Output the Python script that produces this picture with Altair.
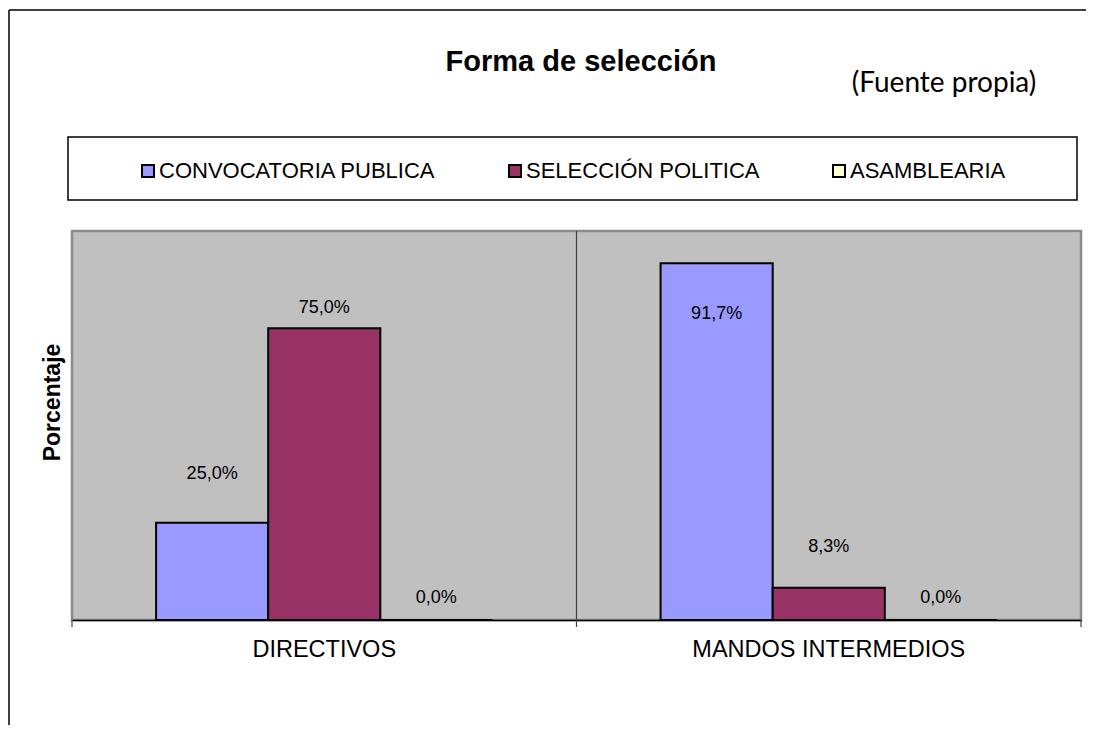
import altair as alt
import pandas as pd

# ---- data ----
categories = ["DIRECTIVOS", "MANDOS INTERMEDIOS"]
series = ["CONVOCATORIA PUBLICA", "SELECCIÓN POLITICA", "ASAMBLEARIA"]
directivos = [25.0, 75.0, 0.0]
mandos = [91.7, 8.3, 0.0]
# where each value label sits, read in the value units of the y axis
label_at_directivos = [37.6, 80.1, 5.6]
label_at_mandos = [78.6, 18.7, 5.6]
colors = ["#9999FF", "#993366", "#FFFFCC"]
title_text = "Forma de selección"
source_text = "(Fuente propia)"
y_title = "Porcentaje"

rows = []
for cat, vals, lab in [(categories[0], directivos, label_at_directivos),
                       (categories[1], mandos, label_at_mandos)]:
    for s, v, p in zip(series, vals, lab):
        rows.append({"cat": cat, "serie": s, "valor": v,
                     "etiqueta": f"{v:.1f}".replace(".", ",") + "%",
                     "pos": p})
df = pd.DataFrame(rows)

W, H = 1009, 389
FONT = "Liberation Sans"

x_scale = alt.Scale(paddingInner=0, paddingOuter=0)
off_scale = alt.Scale(paddingOuter=0.75, paddingInner=0)
y_scale = alt.Scale(domain=[0, 100], nice=False)

x_axis = alt.Axis(title=None, labelFontSize=23.5, labelFont=FONT,
                  labelColor="#000", labelAngle=0, labelPadding=17,
                  labelLimit=600,
                  ticks=False, domainColor="#000", domainWidth=1.5,
                  grid=False)
y_axis = alt.Axis(title=y_title, labels=False, ticks=False,
                  domain=False, grid=False, titleFontSize=23,
                  titleFont=FONT, titleFontWeight="bold",
                  titleColor="#000", titlePadding=8, titleY=171)


def xcat(band=0.5):
    return alt.X("cat:N", sort=categories, scale=x_scale, axis=x_axis,
                 bandPosition=band)


bars = alt.Chart(df).mark_bar(stroke="black", strokeWidth=2).encode(
    x=xcat(),
    xOffset=alt.XOffset("serie:N", sort=series, scale=off_scale),
    y=alt.Y("valor:Q", scale=y_scale, axis=y_axis),
    color=alt.Color("serie:N", sort=series,
                    scale=alt.Scale(domain=series, range=colors),
                    legend=alt.Legend(title=None, orient="none", legendX=65,
                                      legendY=-71, direction="horizontal",
                                      symbolType="square", symbolSize=144,
                                      symbolStrokeWidth=2,
                                      symbolStrokeColor="black",
                                      labelFontSize=22, labelFont=FONT,
                                      labelColor="#000", labelLimit=600,
                                      columnPadding=68,
                                      labelOffset=0, padding=0, rowPadding=0)),
)

labels = alt.Chart(df).mark_text(font=FONT, fontSize=18, color="#000",
                                 baseline="middle").encode(
    x=xcat(),
    xOffset=alt.XOffset("serie:N", sort=series, scale=off_scale),
    y=alt.Y("pos:Q", scale=y_scale, axis=y_axis),
    text="etiqueta:N",
)

one = alt.Data(values=[{"k": 1}])

divider = alt.Chart(alt.Data(values=[{"cat": categories[1]}])).mark_rule(
    color="#404040", strokeWidth=1.2).encode(
    x=xcat(0), y=alt.value(0), y2=alt.value(H + 7),
)
tick_left = alt.Chart(alt.Data(values=[{"cat": categories[0]}])).mark_rule(
    color="#404040", strokeWidth=1.2).encode(
    x=xcat(0), y=alt.value(H), y2=alt.value(H + 7),
)
tick_right = alt.Chart(alt.Data(values=[{"cat": categories[1]}])).mark_rule(
    color="#404040", strokeWidth=1.2).encode(
    x=xcat(1), y=alt.value(H), y2=alt.value(H + 7),
)

legend_box = alt.Chart(one).mark_rect(filled=False, stroke="black",
                                      strokeWidth=1.5).encode(
    x=alt.value(-4), x2=alt.value(1005), y=alt.value(-94), y2=alt.value(-31))

frame_top = alt.Chart(one).mark_rule(color="black", strokeWidth=1.5).encode(
    x=alt.value(-63), x2=alt.value(1014), y=alt.value(-221))
frame_left = alt.Chart(one).mark_rule(color="black", strokeWidth=1.5).encode(
    x=alt.value(-63), y=alt.value(-221), y2=alt.value(494))

title = alt.Chart(alt.Data(values=[{"t": title_text}])).mark_text(
    font=FONT, fontSize=29, fontWeight="bold", color="#000",
    align="center", baseline="alphabetic").encode(
    x=alt.value(509), y=alt.value(-160), text="t:N")

source = alt.Chart(alt.Data(values=[{"t": source_text}])).mark_text(
    font="Lato", fontSize=28, color="#000",
    align="center", baseline="alphabetic").encode(
    x=alt.value(872), y=alt.value(-139), text="t:N")

chart = alt.layer(
    divider, tick_left, tick_right, bars, labels,
    legend_box, frame_top, frame_left, title, source
).properties(
    width=W, height=H,
    autosize=alt.AutoSizeParams(type="none"),
    padding={"left": 64, "top": 223, "right": 5, "bottom": 105},
    background="white",
).configure_view(
    fill="#C0C0C0", stroke="#8a8a8a", strokeWidth=2.5
)

chart.save("out.html", embed_options={"renderer": "svg", "actions": False})
